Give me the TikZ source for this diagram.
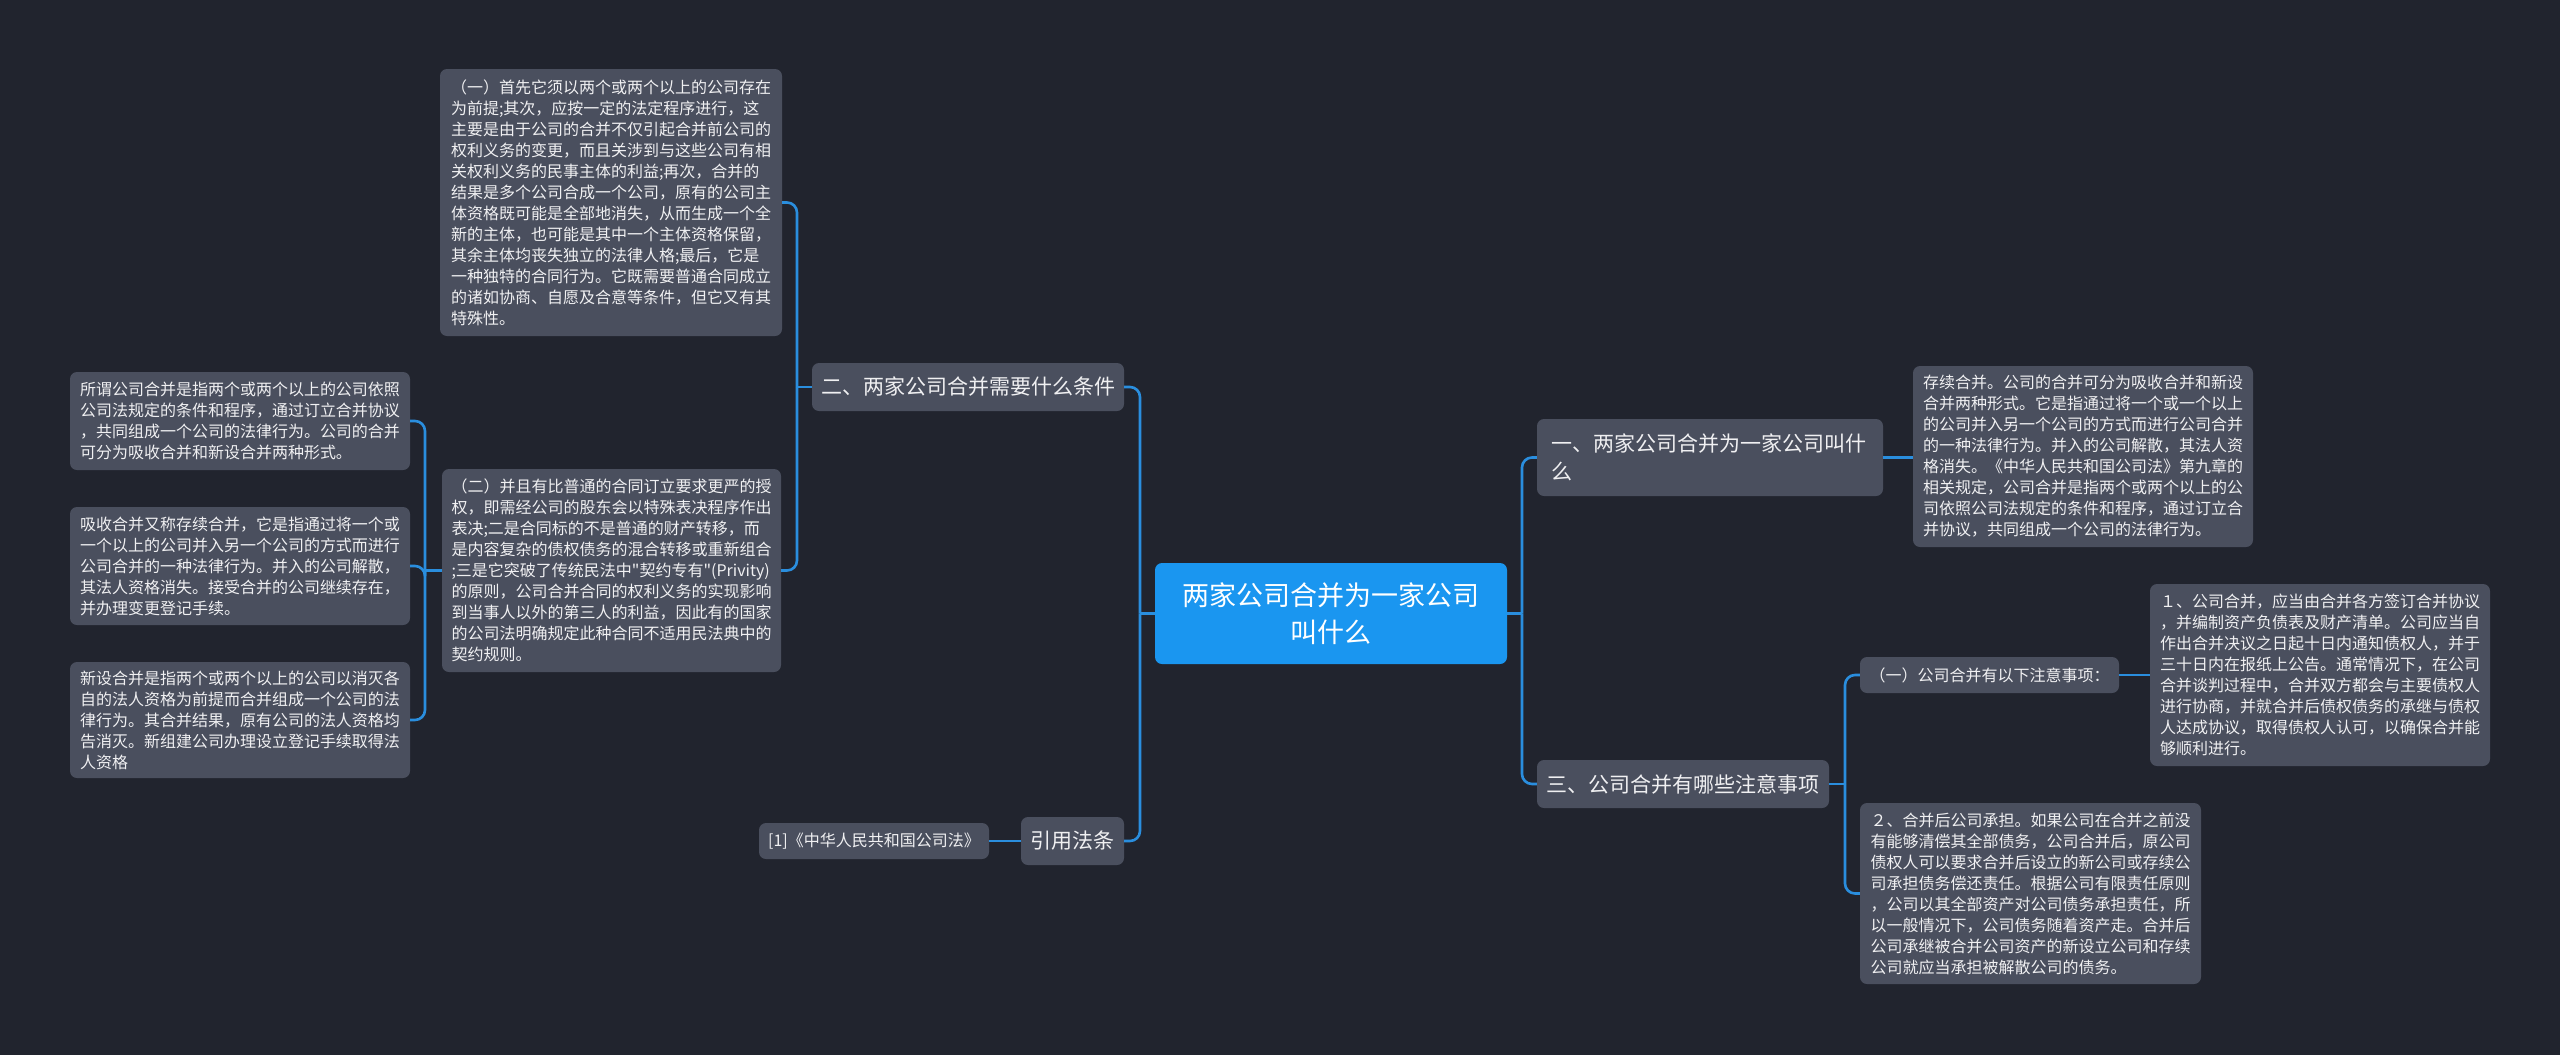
\documentclass[tikz,border=0pt]{standalone}
\usepackage{fontspec}
\setmainfont{Noto Sans CJK SC}[Ligatures=TeXOff]
\definecolor{bgc}{RGB}{33,36,46}
\definecolor{boxc}{RGB}{74,79,94}
\definecolor{txt}{RGB}{240,240,242}
\definecolor{lnc}{RGB}{42,142,222}
\definecolor{rootc}{RGB}{26,150,240}
\begin{document}
\begin{tikzpicture}[x=1pt,y=-1pt]
\tikzset{
  bx/.style={fill=boxc, rounded corners=7pt, text=txt, inner sep=0pt, align=left,
    font=\fontsize{16}{21}\selectfont},
  lv/.style={fill=boxc, rounded corners=7pt, text=txt, inner sep=0pt, align=left,
    font=\fontsize{21}{28}\selectfont},
  sz/.style 2 args={minimum width=#1pt, minimum height=#2pt},
  conn/.style={draw=lnc, line width=2.6pt, rounded corners=10pt},
}
\fill[bgc] (0,0) rectangle (2560,1055);
\useasboundingbox (0,0) rectangle (2560,1055);

% root
\node[fill=rootc, rounded corners=7pt, text=white, inner sep=0pt, align=center,
  font=\fontsize{27}{37}\selectfont, sz={352}{101}] (root) at (1331,613.5)
  {两家公司合并为一家公司\\叫什么};

% level 1
\node[lv, sz={312}{48}] (n2) at (968,387) {二、两家公司合并需要什么条件};
\node[lv, sz={103}{48}] (ny) at (1072.5,841) {引用法条};
\node[lv, sz={346}{77}, text width=318pt, inner xsep=14pt] (n1) at (1710,457.5)
  {一、两家公司合并为一家公司叫什\\么};
\node[lv, sz={292}{48}] (n3) at (1683,784) {三、公司合并有哪些注意事项};

% left details
\node[bx, sz={342}{267}] (c1) at (611,202.5) {（一）首先它须以两个或两个以上的公司存在\\
为前提;其次，应按一定的法定程序进行，这\\
主要是由于公司的合并不仅引起合并前公司的\\
权利义务的变更，而且关涉到与这些公司有相\\
关权利义务的民事主体的利益;再次，合并的\\
结果是多个公司合成一个公司，原有的公司主\\
体资格既可能是全部地消失，从而生成一个全\\
新的主体，也可能是其中一个主体资格保留，\\
其余主体均丧失独立的法律人格;最后，它是\\
一种独特的合同行为。它既需要普通合同成立\\
的诸如协商、自愿及合意等条件，但它又有其\\
特殊性。};

\node[bx, sz={339}{203}] (c2) at (611.5,570.5) {（二）并且有比普通的合同订立要求更严的授\\
权，即需经公司的股东会以特殊表决程序作出\\
表决;二是合同标的不是普通的财产转移，而\\
是内容复杂的债权债务的混合转移或重新组合\\
;三是它突破了传统民法中"契约专有"(Privity)\\
的原则，公司合并合同的权利义务的实现影响\\
到当事人以外的第三人的利益，因此有的国家\\
的公司法明确规定此种合同不适用民法典中的\\
契约规则。};

\node[bx, sz={340}{98}] (a) at (240,421) {所谓公司合并是指两个或两个以上的公司依照\\
公司法规定的条件和程序，通过订立合并协议\\
，共同组成一个公司的法律行为。公司的合并\\
可分为吸收合并和新设合并两种形式。};

\node[bx, sz={340}{118}] (b) at (240,566) {吸收合并又称存续合并，它是指通过将一个或\\
一个以上的公司并入另一个公司的方式而进行\\
公司合并的一种法律行为。并入的公司解散，\\
其法人资格消失。接受合并的公司继续存在，\\
并办理变更登记手续。};

\node[bx, sz={340}{116}] (c) at (240,720) {新设合并是指两个或两个以上的公司以消灭各\\
自的法人资格为前提而合并组成一个公司的法\\
律行为。其合并结果，原有公司的法人资格均\\
告消灭。新组建公司办理设立登记手续取得法\\
人资格};

\node[bx, sz={230}{36}] (law) at (874,841) {[1]《中华人民共和国公司法》};

% right details
\node[bx, sz={340}{181}] (s1) at (2083,456.5) {存续合并。公司的合并可分为吸收合并和新设\\
合并两种形式。它是指通过将一个或一个以上\\
的公司并入另一个公司的方式而进行公司合并\\
的一种法律行为。并入的公司解散，其法人资\\
格消失。《中华人民共和国公司法》第九章的\\
相关规定，公司合并是指两个或两个以上的公\\
司依照公司法规定的条件和程序，通过订立合\\
并协议，共同组成一个公司的法律行为。};

\node[bx, sz={259}{36}] (t1) at (1989.5,675) {（一）公司合并有以下注意事项：};

\node[bx, sz={340}{182}] (u1) at (2320,675) {１、公司合并，应当由合并各方签订合并协议\\
，并编制资产负债表及财产清单。公司应当自\\
作出合并决议之日起十日内通知债权人，并于\\
三十日内在报纸上公告。通常情况下，在公司\\
合并谈判过程中，合并双方都会与主要债权人\\
进行协商，并就合并后债权债务的承继与债权\\
人达成协议，取得债权人认可，以确保合并能\\
够顺利进行。};

\node[bx, sz={341}{181}] (t2) at (2030.5,893.5) {２、合并后公司承担。如果公司在合并之前没\\
有能够清偿其全部债务，公司合并后，原公司\\
债权人可以要求合并后设立的新公司或存续公\\
司承担债务偿还责任。根据公司有限责任原则\\
，公司以其全部资产对公司债务承担责任，所\\
以一般情况下，公司债务随着资产走。合并后\\
公司承继被合并公司资产的新设立公司和存续\\
公司就应当承担被解散公司的债务。};

% junctions
\coordinate (jL) at (1140,613.5);
\coordinate (jR) at (1522,613.5);
\coordinate (j2) at (797,387);
\coordinate (jc2) at (425,570.5);
\coordinate (j3) at (1845,784);

% connectors
\draw[conn] (root.west) -- (jL);
\draw[conn] (jL) |- (n2.east);
\draw[conn] (jL) |- (ny.east);
\draw[conn] (root.east) -- (jR);
\draw[conn] (jR) |- (n1.west);
\draw[conn] (jR) |- (n3.west);
\draw[conn] (n2.west) -- (j2);
\draw[conn] (j2) |- (c1.east);
\draw[conn] (j2) |- (c2.east);
\draw[conn] (c2.west) -- (jc2);
\draw[conn] (jc2) |- (a.east);
\draw[conn] (jc2) |- (b.east);
\draw[conn] (jc2) |- (c.east);
\draw[conn] (ny.west) -- (law.east);
\draw[conn] (n1.east) -- (n1.east -| s1.west);
\draw[conn] (n3.east) -- (j3);
\draw[conn] (j3) |- (t1.west);
\draw[conn] (j3) |- (t2.west);
\draw[conn] (t1.east) -- (u1.west);
\end{tikzpicture}
\end{document}
